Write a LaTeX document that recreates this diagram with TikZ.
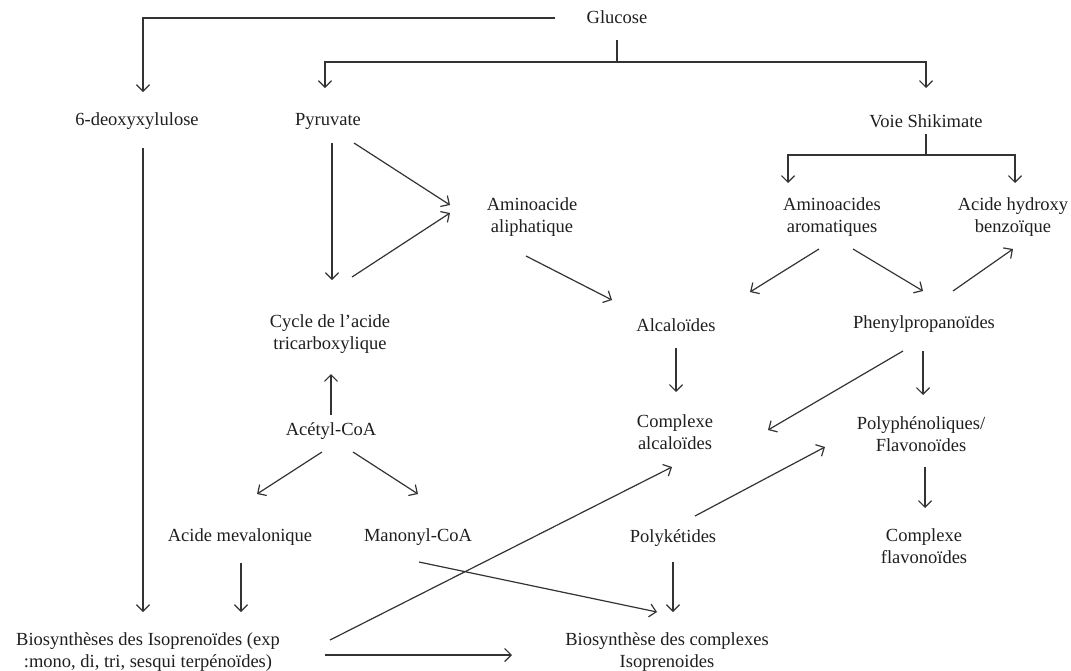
\documentclass[tikz,border=0pt]{standalone}
\usepackage{fontspec}
\setmainfont{Liberation Serif}
\usetikzlibrary{arrows.meta,calc}
\begin{document}
\begin{tikzpicture}[x=1pt,y=-1pt,
  lbl/.style={align=center,inner sep=0pt,text=black!88,font=\fontsize{18.5}{22.5}\selectfont},
  ln/.style={draw=black!80,line width=1.2pt},
  arr/.style={ln,-{Straight Barb[length=6.5pt,width=13pt,line width=1.2pt]}}]
\useasboundingbox[fill=white] (0,0) rectangle (1071,670);
% nodes
\node[lbl] (glu) at (617,17) {Glucose};
\node[lbl] (deoxy) at (137,121) {6-deoxyxylulose};
\node[lbl] (pyr) at (328,121) {Pyruvate};
\node[lbl] (shik) at (926,121) {Voie Shikimate};
\node[lbl] (amino) at (532,217) {Aminoacide\\aliphatique};
\node[lbl] (arom) at (832,217) {Aminoacides\\aromatiques};
\node[lbl] (hyd) at (1013,217) {Acide hydroxy\\benzoïque};
\node[lbl] (cycle) at (330,334) {Cycle de l’acide\\tricarboxylique};
\node[lbl] (alc) at (676,325) {Alcaloïdes};
\node[lbl] (phen) at (924,324) {Phenylpropanoïdes};
\node[lbl] (acetyl) at (331,431) {Acétyl-CoA};
\node[lbl] (calc) at (675,432) {Complexe\\alcaloïdes};
\node[lbl] (poly) at (921,434) {Polyphénoliques/\\Flavonoïdes};
\node[lbl] (mev) at (240,537) {Acide mevalonique};
\node[lbl] (mal) at (418,537) {Manonyl-CoA};
\node[lbl] (polyk) at (673,538) {Polykétides};
\node[lbl] (cflav) at (924,546) {Complexe\\flavonoïdes};
\node[lbl] (bioiso) at (148,652) {Biosynthèses des Isoprenoïdes (exp\\:mono, di, tri, sesqui terpénoïdes)};
\node[lbl] (biocx) at (667,652) {Biosynthèse des complexes\\Isoprenoides};
% connectors
\draw[arr] ($(glu)+(-62,1)$) -| ($(deoxy)+(6,-29)$);
\draw[ln] ($(glu)+(0,23)$) -- ($(glu)+(0,45)$);
\draw[arr] ($(glu)+(0,45)$) -| ($(pyr)+(-3,-33)$);
\draw[arr] ($(glu)+(0,45)$) -| ($(shik)+(0,-33)$);
\draw[ln] ($(shik)+(0,13)$) -- ($(shik)+(0,34)$);
\draw[arr] ($(shik)+(0,34)$) -| ($(arom)+(-44,-34)$);
\draw[arr] ($(shik)+(0,34)$) -| ($(hyd)+(2,-34)$);
\draw[arr] ($(deoxy)+(6,27)$) -- ($(bioiso)+(-5,-40)$);
\draw[arr] ($(pyr)+(4,22)$) -- ($(cycle)+(2,-54)$);
\draw[arr] ($(pyr)+(26,22)$) -- ($(amino)+(-82,-12)$);
\draw[arr] ($(cycle)+(22,-57)$) -- ($(amino)+(-82,-4)$);
\draw[arr] ($(amino)+(-6,39)$) -- ($(alc)+(-64,-25)$);
\draw[arr] ($(arom)+(-13,32)$) -- ($(alc)+(74,-33)$);
\draw[arr] ($(arom)+(21,32)$) -- ($(phen)+(-1,-33)$);
\draw[arr] ($(phen)+(29,-33)$) -- ($(hyd)+(0,32)$);
\draw[arr] ($(alc)+(0,23)$) -- ($(calc)+(1,-40)$);
\draw[arr] ($(phen)+(-21,27)$) -- ($(calc)+(93,-2)$);
\draw[arr] ($(phen)+(-1,27)$) -- ($(poly)+(2,-39)$);
\draw[arr] ($(acetyl)+(0,-16)$) -- ($(cycle)+(1,40)$);
\draw[arr] ($(acetyl)+(-9,21)$) -- ($(mev)+(17,-43)$);
\draw[arr] ($(acetyl)+(22,21)$) -- ($(mal)+(0,-43)$);
\draw[arr] ($(poly)+(4,33)$) -- ($(cflav)+(1,-38)$);
\draw[arr] ($(polyk)+(22,-22)$) -- ($(poly)+(-96,13)$);
\draw[arr] ($(polyk)+(0,24)$) -- ($(biocx)+(6,-40)$);
\draw[arr] ($(mev)+(1,26)$) -- ($(bioiso)+(93,-40)$);
\draw[arr] ($(mal)+(1,25)$) -- ($(biocx)+(-10,-40)$);
\draw[arr] ($(bioiso)+(182,-12)$) -- ($(calc)+(-3,35)$);
\draw[arr] ($(bioiso)+(177,3)$) -- ($(biocx)+(-155,3)$);
\end{tikzpicture}
\end{document}
